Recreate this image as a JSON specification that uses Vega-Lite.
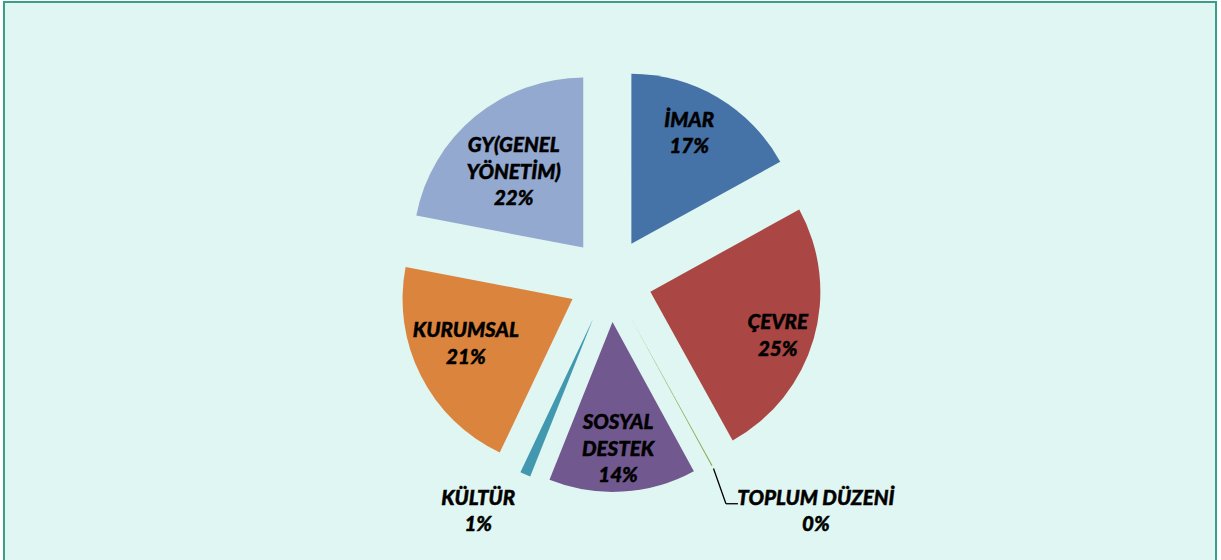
{
  "$schema": "https://vega.github.io/schema/vega-lite/v6.json",
  "width": 1212,
  "height": 556,
  "padding": {"left": 4, "top": 2, "right": 5, "bottom": 2},
  "autosize": {"type": "none"},
  "background": "white",
  "config": {"view": {"stroke": null}},
  "data": {
    "values": [
      {"o": 1, "k": "İMAR", "v": 17, "lbl": "İMAR\n17%"},
      {"o": 2, "k": "ÇEVRE", "v": 25, "lbl": "ÇEVRE\n25%"},
      {"o": 3, "k": "TOPLUM DÜZENİ", "v": 0.1, "lbl": "TOPLUM DÜZENİ\n0%"},
      {"o": 4, "k": "SOSYAL DESTEK", "v": 14, "lbl": "SOSYAL\nDESTEK\n14%"},
      {"o": 5, "k": "KÜLTÜR", "v": 1, "lbl": "KÜLTÜR\n1%"},
      {"o": 6, "k": "KURUMSAL", "v": 21, "lbl": "KURUMSAL\n21%"},
      {"o": 7, "k": "GY(GENEL YÖNETİM)", "v": 22, "lbl": "GY(GENEL\nYÖNETİM)\n22%"}
    ]
  },
  "transform": [
    {"stack": "v", "groupby": [], "sort": [{"field": "o", "order": "ascending"}], "as": ["a0", "a1"]}
  ],
  "layer": [
    {
      "mark": {"type": "rect", "fill": "#e0f6f2", "stroke": "#3a9e8a", "strokeWidth": 2},
      "encoding": {
        "x": {"value": 0},
        "x2": {"value": {"expr": "width"}},
        "y": {"value": 0},
        "y2": {"value": {"expr": "height + 30"}}
      }
    },
    {
      "mark": {"type": "arc", "outerRadius": 170, "innerRadius": 0},
      "encoding": {
        "theta": {"field": "a0", "type": "quantitative", "scale": {"domain": [0, 100.1]}},
        "theta2": {"field": "a1"},
        "color": {
          "field": "k",
          "type": "nominal",
          "scale": {
            "domain": ["İMAR", "ÇEVRE", "TOPLUM DÜZENİ", "SOSYAL DESTEK", "KÜLTÜR", "KURUMSAL", "GY(GENEL YÖNETİM)"],
            "range": ["#4572a7", "#aa4643", "#89a54e", "#71588f", "#4198af", "#db843d", "#93a9cf"]
          },
          "legend": null
        },
        "x": {"value": {"expr": "width/2 + 42*sin(scale('theta', (datum.a0 + datum.a1)/2))"}},
        "y": {"value": {"expr": "height/2 - 42*cos(scale('theta', (datum.a0 + datum.a1)/2))"}}
      }
    },
    {
      "transform": [{"filter": "datum.o == 3"}],
      "mark": {"type": "rule", "color": "black", "strokeWidth": 1.3},
      "encoding": {
        "x": {"value": {"expr": "width/2 + 215*sin(scale('theta', (datum.a0 + datum.a1)/2))"}},
        "y": {"value": {"expr": "height/2 - 215*cos(scale('theta', (datum.a0 + datum.a1)/2))"}},
        "x2": {"value": {"expr": "width/2 + 252*sin(scale('theta', (datum.a0 + datum.a1)/2) + 0.024)"}},
        "y2": {"value": {"expr": "height/2 - 252*cos(scale('theta', (datum.a0 + datum.a1)/2) + 0.024)"}}
      }
    },
    {
      "transform": [{"filter": "datum.o == 3"}],
      "mark": {"type": "rule", "color": "black", "strokeWidth": 1.3},
      "encoding": {
        "x": {"value": {"expr": "width/2 + 252*sin(scale('theta', (datum.a0 + datum.a1)/2) + 0.024)"}},
        "y": {"value": {"expr": "height/2 - 252*cos(scale('theta', (datum.a0 + datum.a1)/2) + 0.024)"}},
        "x2": {"value": {"expr": "width/2 + 252*sin(scale('theta', (datum.a0 + datum.a1)/2) + 0.024) + 12"}},
        "y2": {"value": {"expr": "height/2 - 252*cos(scale('theta', (datum.a0 + datum.a1)/2) + 0.024)"}}
      }
    },
    {
      "mark": {
        "type": "text",
        "font": "Lato",
        "fontSize": 20.5,
        "fontWeight": 900,
        "fontStyle": "italic",
        "color": "black",
        "stroke": "black",
        "strokeWidth": 0.45,
        "align": "center",
        "baseline": "middle",
        "lineBreak": "\n",
        "lineHeight": 26.5
      },
      "encoding": {
        "text": {"field": "lbl"},
        "x": {"value": {"expr": "width/2 + [0,166,177,310,170,267,158,144][datum.o]*sin(scale('theta', (datum.a0 + datum.a1)/2) + [0,-0.036,0.044,-0.224,0.012,0.105,0.047,-0.042][datum.o])"}},
        "y": {"value": {"expr": "height/2 - [0,166,177,310,170,267,158,144][datum.o]*cos(scale('theta', (datum.a0 + datum.a1)/2) + [0,-0.036,0.044,-0.224,0.012,0.105,0.047,-0.042][datum.o]) - (length(split(datum.lbl, '\\n')) - 1)*13.25"}}
      }
    }
  ]
}
